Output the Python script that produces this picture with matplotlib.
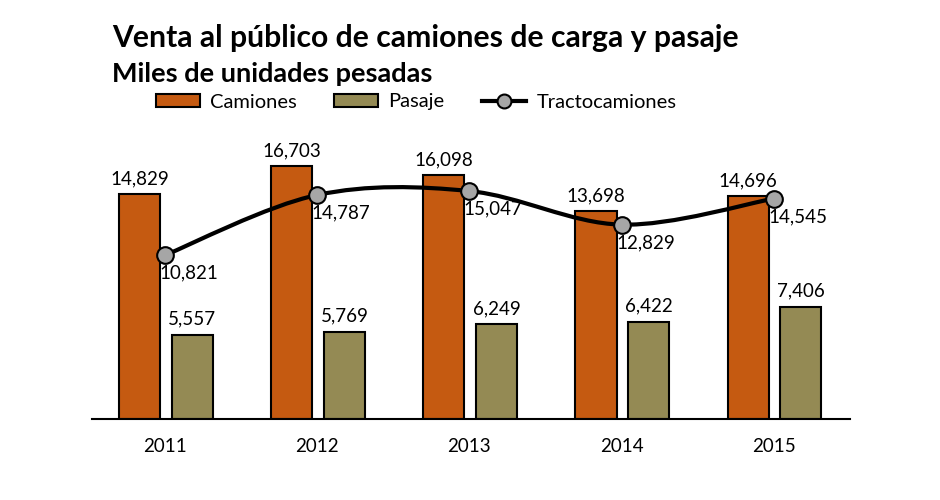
import numpy as np
import matplotlib
matplotlib.use("Agg")
import matplotlib.pyplot as plt
from matplotlib.path import Path
from matplotlib.patches import PathPatch, Patch
from matplotlib.lines import Line2D

plt.rcParams['font.family'] = ['Lato', 'DejaVu Sans']

# data
years = ['2011', '2012', '2013', '2014', '2015']
camiones = [14829, 16703, 16098, 13698, 14696]
pasaje = [5557, 5769, 6249, 6422, 7406]
tracto = [10821, 14787, 15047, 12829, 14545]

c_cam = '#C55A11'
c_pas = '#948A54'
c_marker = '#A6A6A6'

fig = plt.figure(figsize=(9.4, 5.0), dpi=100)
ax = fig.add_axes([0.098, 0.162, 0.806, 0.5454])

x = np.arange(len(years))
w = 0.27
ax.bar(x - 0.168, camiones, w, color=c_cam, edgecolor='black', linewidth=1.5, zorder=2)
ax.bar(x + 0.178, pasaje, w, color=c_pas, edgecolor='black', linewidth=1.5, zorder=2)

# smoothed line (Catmull-Rom as cubic bezier segments)
pts = np.column_stack([x, tracto]).astype(float)
verts = [tuple(pts[0])]
codes = [Path.MOVETO]
n = len(pts)
for i in range(n - 1):
    p0 = pts[i - 1] if i > 0 else pts[i]
    p1 = pts[i]
    p2 = pts[i + 1]
    p3 = pts[i + 2] if i + 2 < n else pts[i + 1]
    c1 = p1 + (p2 - p0) / 6.0
    c2 = p2 - (p3 - p1) / 6.0
    verts += [tuple(c1), tuple(c2), tuple(p2)]
    codes += [Path.CURVE4] * 3
ax.add_patch(PathPatch(Path(verts, codes), fill=False, edgecolor='black', lw=3, zorder=3))
ax.plot(x, tracto, 'o', ms=12, mfc=c_marker, mec='black', mew=1.5, zorder=4)

# labels
fs = 13.5
for i in range(n):
    ax.annotate(f'{camiones[i]:,}', (x[i] - 0.168, camiones[i]), xytext=(0, 5),
                textcoords='offset points', ha='center', va='bottom', fontsize=fs)
    ax.annotate(f'{pasaje[i]:,}', (x[i] + 0.178, pasaje[i]), xytext=(0, 5),
                textcoords='offset points', ha='center', va='bottom', fontsize=fs)
    ax.annotate(f'{tracto[i]:,}', (x[i], tracto[i]), xytext=(-4, -7),
                textcoords='offset points', ha='left', va='top', fontsize=fs)

ax.set_xlim(-0.48, 4.5)
ax.set_ylim(0, 18000)
ax.set_xticks(x)
ax.set_xticklabels(years, fontsize=fs)
ax.tick_params(axis='x', length=0, pad=14)
ax.set_yticks([])
for s in ['top', 'right', 'left']:
    ax.spines[s].set_visible(False)
ax.spines['bottom'].set_linewidth(1.5)

fig.text(0.119, 0.906, 'Venta al público de camiones de carga y pasaje',
         fontsize=21.7, fontweight='bold', va='baseline')
fig.text(0.119, 0.836, 'Miles de unidades pesadas',
         fontsize=19.5, fontweight='bold', va='baseline')

handles = [Patch(facecolor=c_cam, edgecolor='black', linewidth=1.5),
           Patch(facecolor=c_pas, edgecolor='black', linewidth=1.5),
           Line2D([], [], color='black', lw=3, marker='o', ms=10,
                  mfc=c_marker, mec='black', mew=1.5)]
fig.legend(handles, ['Camiones', 'Pasaje', 'Tractocamiones'], ncol=3,
           loc='center', bbox_to_anchor=(0.4426, 0.796), frameon=False,
           fontsize=14.5, handlelength=2.2, handleheight=0.6, columnspacing=1.85,
           handletextpad=0.5)

fig.savefig('out.png', dpi=100)
